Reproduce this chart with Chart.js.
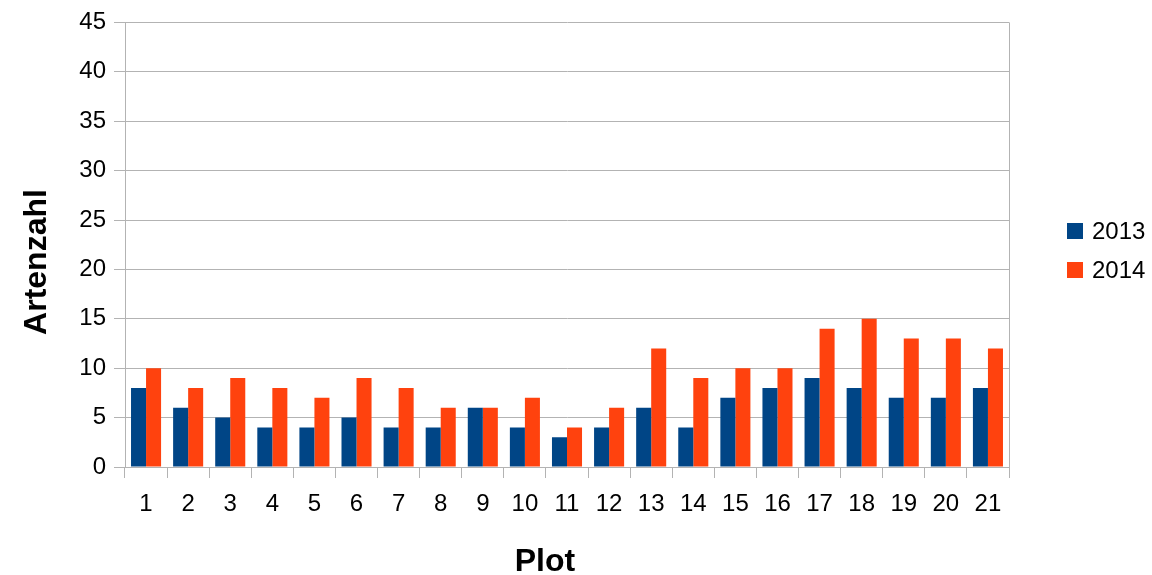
<!DOCTYPE html>
<html>
<head>
<meta charset="utf-8">
<script src="https://cdn.jsdelivr.net/npm/chart.js@4/dist/chart.umd.min.js"></script>
<style>
  html, body { margin: 0; padding: 0; background: #ffffff; }
  #wrap { width: 1152px; height: 575px; }
</style>
</head>
<body>
<div id="wrap"><canvas id="c" width="1152" height="575"></canvas></div>
<script>
// Species counts per plot, two survey years
const plots = ['1','2','3','4','5','6','7','8','9','10','11','12','13','14','15','16','17','18','19','20','21'];
const counts2013 = [8, 6, 5, 4, 4, 5, 4, 4, 6, 4, 3, 4, 6, 4, 7, 8, 9, 8, 7, 7, 8];
const counts2014 = [10, 8, 9, 8, 7, 9, 8, 6, 6, 7, 4, 6, 12, 9, 10, 10, 14, 15, 13, 13, 12];
const yTicks = [0, 5, 10, 15, 20, 25, 30, 35, 40, 45];
const xTitle = 'Plot';
const yTitle = 'Artenzahl';

const FONT = '"Liberation Sans", Arial, sans-serif';
const GRID = '#b3b3b3';

// Right frame line, axis titles and a legend placed beside the plot area
const decorations = {
  id: 'decorations',
  afterDraw(chart) {
    const a = chart.chartArea, ctx = chart.ctx;
    ctx.save();
    ctx.strokeStyle = GRID;
    ctx.lineWidth = 1;
    ctx.beginPath();
    ctx.moveTo(Math.round(a.right) + 0.5, a.top);
    ctx.lineTo(Math.round(a.right) + 0.5, a.bottom);
    ctx.stroke();

    ctx.fillStyle = '#000000';
    ctx.font = 'bold 32px ' + FONT;
    ctx.textAlign = 'center';
    ctx.textBaseline = 'middle';
    ctx.fillText(xTitle, a.left + (a.right - a.left) * 0.475, 562);

    ctx.save();
    ctx.translate(37, 262);
    ctx.rotate(-Math.PI / 2);
    ctx.fillText(yTitle, 0, 0);
    ctx.restore();

    ctx.font = '24px ' + FONT;
    ctx.textAlign = 'left';
    chart.data.datasets.forEach((ds, i) => {
      const cy = 231 + i * 39;
      ctx.fillStyle = ds.backgroundColor;
      ctx.fillRect(1067, cy - 8, 16, 16);
      ctx.fillStyle = '#000000';
      ctx.fillText(ds.label, 1092, cy + 1);
    });
    ctx.restore();
  }
};

new Chart(document.getElementById('c'), {
  type: 'bar',
  data: {
    labels: plots,
    datasets: [
      { label: '2013', data: counts2013, backgroundColor: '#004586' },
      { label: '2014', data: counts2014, backgroundColor: '#ff420e' }
    ]
  },
  options: {
    responsive: false,
    animation: false,
    devicePixelRatio: 1,
    layout: { padding: { top: 10, left: 0, right: 143, bottom: 0 } },
    datasets: { bar: { categoryPercentage: 0.714, barPercentage: 1.0 } },
    plugins: {
      legend: { display: false },
      tooltip: { enabled: false }
    },
    scales: {
      x: {
        grid: {
          offset: true,
          drawOnChartArea: false,
          color: GRID,
          tickLength: 11,
          tickColor: GRID
        },
        border: { color: GRID },
        ticks: { font: { family: FONT, size: 24 }, color: '#000000', padding: 12, maxRotation: 0 },
        afterFit(scale) { scale.height = 108; }
      },
      y: {
        min: 0,
        max: 45,
        afterBuildTicks(scale) { scale.ticks = yTicks.map(v => ({ value: v })); },
        grid: { color: GRID, tickLength: 11, tickColor: GRID },
        border: { color: GRID },
        ticks: { font: { family: FONT, size: 24 }, color: '#000000', padding: 8 },
        afterFit(scale) { scale.width = 125; }
      }
    }
  },
  plugins: [decorations]
});
</script>
</body>
</html>
